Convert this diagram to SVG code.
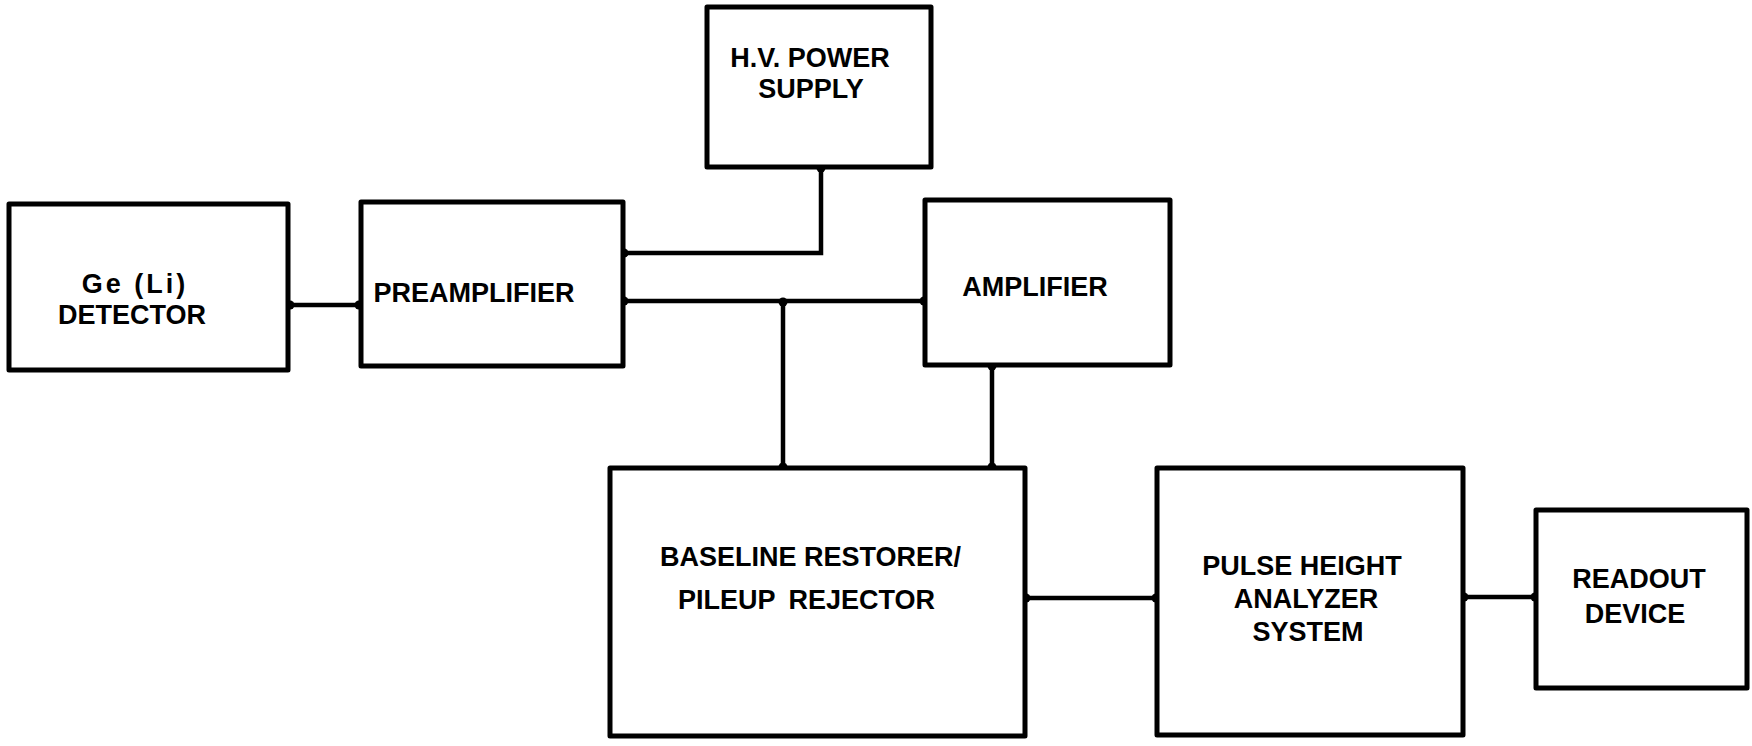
<svg xmlns="http://www.w3.org/2000/svg" width="1752" height="746" viewBox="0 0 1752 746">
<style>
.box{fill:#fff;stroke:#000;stroke-width:5;stroke-linejoin:round}
.wire{fill:none;stroke:#000;stroke-width:4.5;stroke-linejoin:miter}
.dot{fill:#000}
text{font-family:"Liberation Sans",Arial,sans-serif;font-weight:bold;font-size:27px;fill:#000}
.m{text-anchor:middle}
</style>
<rect width="1752" height="746" fill="#fff"/>
<g id="connectors">
<path class="wire" d="M289,305 H360"/>
<path class="wire" d="M623,253 H821 V167"/>
<path class="wire" d="M623,301 H925"/>
<path class="wire" d="M783,301 V468"/>
<path class="wire" d="M992,365 V468"/>
<path class="wire" d="M1025,598 H1157"/>
<path class="wire" d="M1463,597 H1536"/>
<circle class="dot" cx="290" cy="305" r="4.5"/>
<circle class="dot" cx="359" cy="305" r="4.5"/>
<circle class="dot" cx="624" cy="253" r="4.5"/>
<circle class="dot" cx="624" cy="301" r="4.5"/>
<circle class="dot" cx="821" cy="168" r="4.5"/>
<circle class="dot" cx="783" cy="302" r="4.5"/>
<circle class="dot" cx="783" cy="467" r="4.5"/>
<circle class="dot" cx="924" cy="301" r="4.5"/>
<circle class="dot" cx="992" cy="366" r="4.5"/>
<circle class="dot" cx="992" cy="467" r="4.5"/>
<circle class="dot" cx="1026" cy="598" r="4.5"/>
<circle class="dot" cx="1156" cy="598" r="4.5"/>
<circle class="dot" cx="1464" cy="597" r="4.5"/>
<circle class="dot" cx="1535" cy="597" r="4.5"/>
</g>
<g id="detector">
<rect class="box" x="9" y="204" width="279" height="166"/>
<text class="m" x="135" y="293" letter-spacing="3">Ge (Li)</text>
<text class="m" x="132" y="324">DETECTOR</text>
</g>
<g id="preamplifier">
<rect class="box" x="361" y="202" width="262" height="164"/>
<text class="m" x="474" y="302">PREAMPLIFIER</text>
</g>
<g id="hv-power-supply">
<rect class="box" x="707" y="7" width="224" height="160"/>
<text class="m" x="810" y="67">H.V. POWER</text>
<text class="m" x="811" y="98">SUPPLY</text>
</g>
<g id="amplifier">
<rect class="box" x="925" y="200" width="245" height="165"/>
<text class="m" x="1035" y="296">AMPLIFIER</text>
</g>
<g id="baseline-restorer">
<rect class="box" x="610" y="468" width="415" height="268"/>
<text x="660" y="566">BASELINE RESTORER/</text>
<text x="678" y="609" word-spacing="6">PILEUP REJECTOR</text>
</g>
<g id="pulse-height-analyzer">
<rect class="box" x="1157" y="468" width="306" height="267"/>
<text class="m" x="1302" y="575">PULSE HEIGHT</text>
<text class="m" x="1306" y="608">ANALYZER</text>
<text class="m" x="1308" y="641">SYSTEM</text>
</g>
<g id="readout-device">
<rect class="box" x="1536" y="510" width="211" height="178"/>
<text class="m" x="1639" y="588">READOUT</text>
<text class="m" x="1635" y="623">DEVICE</text>
</g>
</svg>
